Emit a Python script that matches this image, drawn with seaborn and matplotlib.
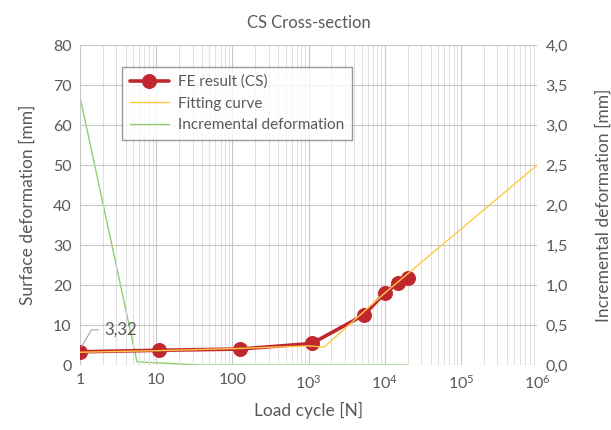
import seaborn as sns
import pandas as pd
import matplotlib.pyplot as plt
from matplotlib.ticker import FixedLocator, FuncFormatter, LogLocator, NullFormatter

# FE result (CS)
fe_cycles = [1, 11, 125, 1100, 5300, 10000, 15000, 20000]
fe_deform = [3.32, 3.7, 4.0, 5.4, 12.5, 18.0, 20.5, 21.8]

# Fitting curve
fit_cycles = [1, 10, 100, 1000, 1600, 10000, 1000000]
fit_deform = [3.2, 3.6, 4.1, 4.8, 4.5, 18.0, 50.0]

# Incremental deformation (right axis, mm)
inc_cycles = [1, 5.6, 40, 1000, 20000]
inc_deform = [3.35, 0.04, 0.0, 0.0, 0.0]

x_ticks = [1, 10, 100, 1e3, 1e4, 1e5, 1e6]
x_tick_labels = ['1', '10', '100', '$10^3$', '$10^4$', '$10^5$', '$10^6$']

sns.set_style('white')
plt.rcParams['font.family'] = ['Lato', 'DejaVu Sans']
plt.rcParams['mathtext.fontset'] = 'custom'
plt.rcParams['mathtext.rm'] = 'Lato'
plt.rcParams['mathtext.it'] = 'Lato'
text_color = '#595959'
grid_color = '#d9d9d9'
red = '#c0272d'
yellow = '#ffc844'
green = '#8fcf6d'

fe = pd.DataFrame({'cycle': fe_cycles, 'deform': fe_deform})
fit = pd.DataFrame({'cycle': fit_cycles, 'deform': fit_deform})
inc = pd.DataFrame({'cycle': inc_cycles, 'deform': inc_deform})

fig = plt.figure(figsize=(6.11, 4.30), dpi=100)
ax = fig.add_axes([0.131, 0.151, 0.748, 0.744])
ax2 = ax.twinx()

sns.lineplot(data=inc, x='cycle', y='deform', ax=ax2, color=green, lw=1.0, label='Incremental deformation', legend=False)
sns.lineplot(data=fit, x='cycle', y='deform', ax=ax, color=yellow, lw=1.0, label='Fitting curve', legend=False, zorder=4)
sns.lineplot(data=fe, x='cycle', y='deform', ax=ax, color=red, lw=2.6, marker='o', markersize=10,
             markeredgecolor=red, label='FE result (CS)', legend=False, zorder=3)

ax.set_xscale('log')
ax.set_xlim(1, 1e6)
ax.set_ylim(0, 80)
ax2.set_ylim(0, 4.0)
ax.set_yticks(range(0, 81, 10))
ax2.set_yticks([i * 0.5 for i in range(9)])
ax2.yaxis.set_major_formatter(FuncFormatter(lambda v, p: f'{v:.1f}'.replace('.', ',')))
ax.xaxis.set_major_locator(FixedLocator(x_ticks))
ax.set_xticklabels(x_tick_labels)
ax.xaxis.set_minor_locator(LogLocator(base=10, subs=range(2, 10), numticks=20))
ax.xaxis.set_minor_formatter(NullFormatter())

ax.grid(True, which='major', axis='both', color='#c8c8c8', lw=0.8)
ax.grid(True, which='minor', axis='x', color=grid_color, lw=0.6)
ax.set_axisbelow(True)
ax.set_zorder(ax2.get_zorder() + 1)
ax.patch.set_visible(False)
for a in (ax, ax2):
    for s in a.spines.values():
        s.set_visible(False)
    a.tick_params(which='both', length=0, colors=text_color, labelsize=11.5, pad=6)

ax.set_xlabel('Load cycle [N]', color=text_color, fontsize=12.5, labelpad=8)
ax.set_ylabel('Surface deformation [mm]', color=text_color, fontsize=12.5, labelpad=12)
ax2.set_ylabel('Incremental deformation [mm]', color=text_color, fontsize=12.5, labelpad=20)
ax.set_title('CS Cross-section', color=text_color, fontsize=12, pad=12)

ax.annotate('3,32', xy=(1.05, 4.6), xytext=(2.1, 8.8), color=text_color, fontsize=12,
            va='center', ha='left',
            arrowprops=dict(arrowstyle='-', color='#a6a6a6', lw=0.8, relpos=(0, 0.5),
                            shrinkA=2, shrinkB=0,
                            connectionstyle='angle,angleA=0,angleB=60,rad=0'))

h1, l1 = ax.get_legend_handles_labels()
h2, l2 = ax2.get_legend_handles_labels()
handles = dict(zip(l1 + l2, h1 + h2))
order = ['FE result (CS)', 'Fitting curve', 'Incremental deformation']
leg = ax.legend([handles[k] for k in order], order, loc='upper left', bbox_to_anchor=(0.075, 0.955),
                frameon=True, fancybox=False, edgecolor='#7f7f7f', fontsize=11,
                handlelength=2.6, handletextpad=0.6, labelcolor=text_color, borderpad=0.5,
                labelspacing=0.5)
leg.get_frame().set_linewidth(1.0)

fig.savefig('out.png', dpi=100)
